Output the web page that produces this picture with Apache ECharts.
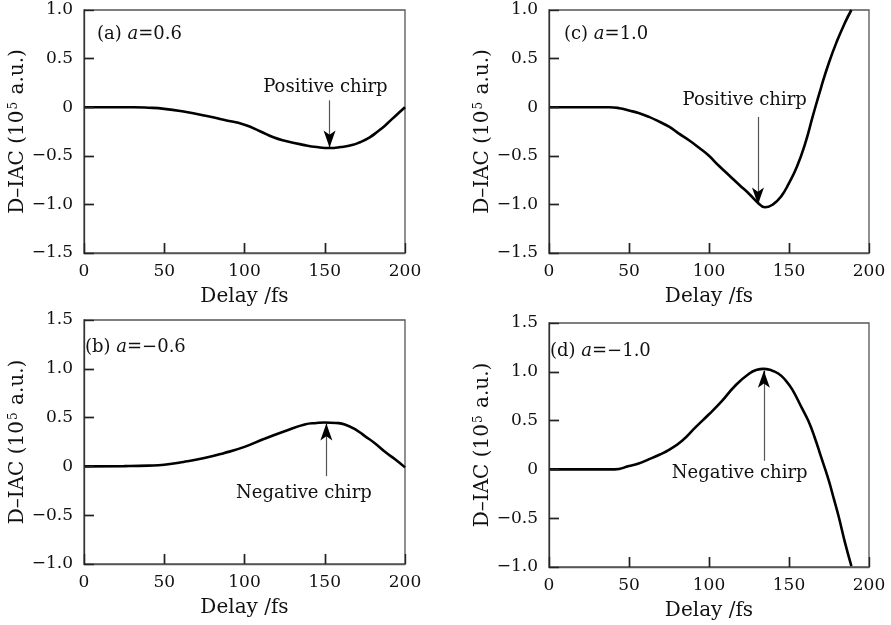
<!DOCTYPE html>
<html>
<head>
<meta charset="utf-8">
<script src="https://cdn.jsdelivr.net/npm/echarts@6/dist/echarts.min.js"></script>
<style>html,body{margin:0;padding:0;background:#fff}#c{width:891px;height:625px}</style>
</head>
<body>
<div id="c"></div>
<script>
// ---- data (Delay in fs, D-IAC in 10^5 a.u.) ----
const delayA = [0, 20, 31, 40, 50, 62, 75, 87, 100, 110, 118, 125, 137.5, 145, 153, 160, 167, 172, 178, 183, 187.5, 192, 196, 200];
const valueA = [0, 0, 0, -0.005, -0.017, -0.045, -0.085, -0.13, -0.18, -0.25, -0.31, -0.345, -0.39, -0.41, -0.42, -0.41, -0.39, -0.36, -0.31, -0.25, -0.19, -0.12, -0.06, 0];

const delayB = [0, 25, 40, 50, 62, 75, 87, 100, 112, 125, 137.5, 145, 150, 157, 162.5, 170, 175, 181, 187.5, 194, 200];
const valueB = [0, 0.003, 0.008, 0.017, 0.045, 0.085, 0.135, 0.2, 0.28, 0.36, 0.43, 0.445, 0.45, 0.445, 0.43, 0.37, 0.31, 0.24, 0.15, 0.07, -0.01];

const delayC = [0, 20, 37.5, 44, 50, 56, 62.5, 69, 75, 81, 87.5, 94, 100, 106, 112.5, 119, 125, 131, 135, 140, 145, 150, 155, 160, 165, 170, 175, 180, 185, 189];
const valueC = [0, 0, 0, -0.01, -0.034, -0.06, -0.1, -0.15, -0.2, -0.27, -0.34, -0.42, -0.5, -0.6, -0.7, -0.8, -0.89, -0.99, -1.03, -1.0, -0.92, -0.78, -0.61, -0.38, -0.085, 0.2, 0.46, 0.68, 0.87, 1.0];

const delayD = [0, 20, 41, 50, 56, 62, 69, 75, 83, 91.5, 100, 108, 116.5, 125, 130, 134, 138, 143.5, 148, 152, 158, 162, 166, 170, 174.6, 178, 181, 185, 189];
const valueD = [0, 0, 0, 0.034, 0.06, 0.10, 0.15, 0.2, 0.29, 0.43, 0.565, 0.70, 0.86, 0.98, 1.02, 1.03, 1.02, 0.98, 0.91, 0.82, 0.63, 0.5, 0.33, 0.13, -0.1, -0.3, -0.48, -0.75, -0.99];

const xTicks = [0, 50, 100, 150, 200];
const yTicksTop = [-1.5, -1.0, -0.5, 0, 0.5, 1.0];
const yTicksBottom = [-1.0, -0.5, 0, 0.5, 1.0, 1.5];

const panelLabels = [
  ['(a) ', '0.6'],
  ['(b) ', '−0.6'],
  ['(c) ', '1.0'],
  ['(d) ', '−1.0']
];
const chirpTexts = ['Positive chirp', 'Negative chirp', 'Positive chirp', 'Negative chirp'];
// annotation anchors [x, y] in data units
const textPos = [[150.4, 0.2], [137, -0.28], [122.3, 0.07], [119.2, -0.04]];
const arrowFrom = [[153, 0.07], [151, -0.10], [130.6, -0.1], [134.3, 0.088]];
const arrowTo = [[153, -0.415], [151, 0.44], [130.6, -1.0], [134.3, 1.01]];
const headLen = 0.1; // short black segment carrying the arrow head

// ---- layout ----
const FONT = 'DejaVu Serif';
const grids = [
  {left: 84, top: 10, width: 321, height: 243},
  {left: 84, top: 320, width: 321, height: 244},
  {left: 549, top: 10, width: 320, height: 243},
  {left: 549, top: 323, width: 320, height: 244}
];
const titlePos = [[97, 25], [85, 338], [564, 25], [550, 342]];
const yTickSets = [yTicksTop, yTicksBottom, yTicksTop, yTicksBottom];
const delays = [delayA, delayB, delayC, delayD];
const values = [valueA, valueB, valueC, valueD];
const TICK_X = 6.25;   // 10 px in fs
const TICK_Y = 0.103;  // 10 px in 10^5 a.u.
const tickStyle = {color: '#222', width: 1.4};

function fmtY(v) {
  if (Math.abs(v) < 1e-9) return '0';
  return v.toFixed(1).replace('-', '−');
}

function tickLines(i) {
  const ys = yTickSets[i];
  const yMin = ys[0], yMax = ys[ys.length - 1];
  const out = [];
  xTicks.slice(1, -1).forEach(t => out.push([
    {coord: [t, yMin], symbol: 'none', lineStyle: tickStyle},
    {coord: [t, yMin + TICK_Y], symbol: 'none'}
  ]));
  ys.slice(1, -1).forEach(v => out.push([
    {coord: [xTicks[0], v], symbol: 'none', lineStyle: tickStyle},
    {coord: [xTicks[0] + TICK_X, v], symbol: 'none'}
  ]));
  return out;
}

const option = {
  animation: false,
  backgroundColor: '#fff',
  title: panelLabels.map((p, i) => ({
    text: p[0] + '{i|a}=' + p[1],
    left: titlePos[i][0], top: titlePos[i][1], padding: 0,
    textStyle: {
      fontFamily: FONT, fontSize: 18, fontWeight: 'normal', color: '#111',
      rich: {i: {fontFamily: FONT, fontSize: 18, fontStyle: 'italic', color: '#111'}}
    }
  })),
  grid: grids.map(g => Object.assign({show: true, borderColor: '#555', borderWidth: 1.3, backgroundColor: 'transparent'}, g)),
  xAxis: grids.map((g, i) => ({
    gridIndex: i, type: 'value', min: xTicks[0], max: xTicks[xTicks.length - 1], interval: 50, z: 5,
    name: 'Delay /fs', nameLocation: 'middle', nameGap: 34,
    nameTextStyle: {fontFamily: FONT, fontSize: 20, color: '#111'},
    axisLine: {show: true, onZero: false, lineStyle: {color: '#555', width: 1.3}},
    axisTick: {show: true, inside: true, length: 10, lineStyle: {color: '#222', width: 1.4}},
    axisLabel: {fontFamily: FONT, fontSize: 17, color: '#111', margin: 10,
      formatter: v => String(v)},
    splitLine: {show: false}
  })),
  yAxis: grids.map((g, i) => ({
    gridIndex: i, type: 'value', min: yTickSets[i][0], max: yTickSets[i][yTickSets[i].length - 1], interval: 0.5, z: 5,
    name: 'D–IAC (10{s|5} a.u.)', nameLocation: 'middle', nameGap: 53,
    nameTextStyle: {fontFamily: FONT, fontSize: 20, color: '#111',
      rich: {s: {fontFamily: FONT, fontSize: 12, color: '#111', verticalAlign: 'top', padding: [0, 1, 7, 1]}}},
    axisLine: {show: true, onZero: false, lineStyle: {color: '#333', width: 1.3}},
    axisTick: {show: true, inside: true, length: 10, lineStyle: {color: '#222', width: 1.4}},
    axisLabel: {fontFamily: FONT, fontSize: 17, color: '#111', margin: 11, formatter: fmtY},
    splitLine: {show: false}
  })),
  series: grids.map((g, i) => {
    const dir = arrowTo[i][1] > arrowFrom[i][1] ? 1 : -1;
    const headStart = [arrowTo[i][0], arrowTo[i][1] - dir * headLen];
    return {
      type: 'line', xAxisIndex: i, yAxisIndex: i,
      data: delays[i].map((x, k) => [x, values[i][k]]),
      showSymbol: false, smooth: 0.5, silent: true,
      lineStyle: {color: '#000', width: 2.6},
      markLine: {
        silent: true, animation: false,
        label: {show: false},
        lineStyle: {color: '#555', width: 1.2, type: 'solid'},
        emphasis: {disabled: true},
        data: [
          [{coord: arrowFrom[i], symbol: 'none'}, {coord: headStart, symbol: 'none'}],
          [{coord: headStart, symbol: 'none', lineStyle: {color: '#000', width: 1.2}},
           {coord: arrowTo[i], symbol: 'arrow', symbolSize: [9, 17]}]
        ].concat(tickLines(i))
      },
      markPoint: {
        silent: true, animation: false,
        symbol: 'rect', symbolSize: 1, itemStyle: {color: 'rgba(0,0,0,0)'},
        label: {show: true, position: 'inside', fontFamily: FONT, fontSize: 18, color: '#111',
          formatter: () => chirpTexts[i]},
        data: [{coord: textPos[i]}]
      }
    };
  })
};

const chart = echarts.init(document.getElementById('c'), null, {renderer: 'canvas'});
chart.setOption(option);
</script>
</body>
</html>
